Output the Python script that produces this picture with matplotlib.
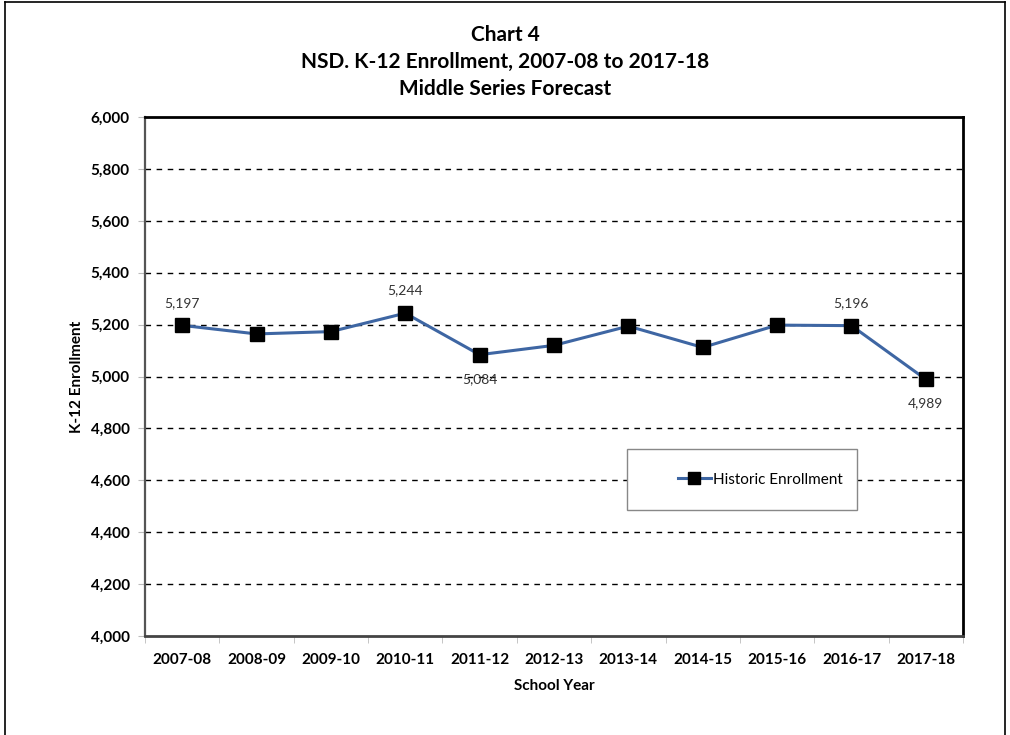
import matplotlib.pyplot as plt
from matplotlib.lines import Line2D
from matplotlib.patches import Rectangle
from matplotlib.ticker import FuncFormatter, FixedLocator

# data
years = ['2007-08', '2008-09', '2009-10', '2010-11', '2011-12', '2012-13',
         '2013-14', '2014-15', '2015-16', '2016-17', '2017-18']
enrollment = [5197, 5164, 5173, 5244, 5084, 5120, 5194, 5112, 5198, 5196, 4989]
# which points carry a data label, and where (above / below)
labelled = {0: 'above', 3: 'above', 4: 'below', 9: 'above', 10: 'below'}

plt.rcParams['font.family'] = ['Lato', 'DejaVu Sans']

W, H = 1010, 735
fig = plt.figure(figsize=(W / 100, H / 100), dpi=100)
ax = fig.add_axes([145 / W, 1 - 636 / H, (963 - 145) / W, (636 - 117) / H])

line_colour = '#3e66a3'
x = list(range(len(years)))
ax.plot(x, enrollment, color=line_colour, lw=2.2, marker='s', ms=10,
        mfc='black', mec='black', zorder=3, label='Historic Enrollment')

for i, side in labelled.items():
    dy = 12 if side == 'above' else -13
    ax.annotate(f'{enrollment[i]:,}', (x[i], enrollment[i]), xytext=(0, dy),
                textcoords='offset points', ha='center',
                va='bottom' if side == 'above' else 'top', fontsize=10, color='#333333')

ax.set_xlim(-0.5, len(years) - 0.5)
ax.set_ylim(4000, 6000)
ax.set_yticks(range(4000, 6001, 200))
ax.yaxis.set_major_formatter(FuncFormatter(lambda v, p: f'{int(v):,}'))
ax.set_xticks(x)
ax.set_xticklabels(years)
ax.xaxis.set_minor_locator(FixedLocator([i - 0.5 for i in range(len(years) + 1)]))
ax.tick_params(axis='x', which='major', length=0, pad=12)
ax.tick_params(axis='x', which='minor', length=5, color='#bbbbbb')
ax.tick_params(axis='y', length=5, color='#bbbbbb', pad=6)
for lab in ax.get_xticklabels() + ax.get_yticklabels():
    lab.set_fontweight('bold')
    lab.set_fontsize(11)

for v in range(4200, 6000, 200):
    ax.axhline(v, color='black', lw=1.0, ls=(0, (4, 4)), zorder=1)

ax.spines['left'].set_color('#555555')
ax.spines['left'].set_linewidth(1.6)
ax.spines['bottom'].set_color('#444444')
ax.spines['bottom'].set_linewidth(2)
ax.spines['top'].set_linewidth(2)
ax.spines['right'].set_linewidth(2)

ax.set_xlabel('School Year', fontsize=11, fontweight='bold', labelpad=9)
ax.set_ylabel('K-12 Enrollment', fontsize=11, fontweight='bold', labelpad=5)

fig.text(0.5, 1 - 62 / H, 'Chart 4\nNSD. K-12 Enrollment, 2007-08 to 2017-18\nMiddle Series Forecast',
         ha='center', va='center', fontsize=15, fontweight='bold', linespacing=1.45)

# legend: white box covering the gridlines, entry placed inside it
ax.add_patch(Rectangle((0.589, 0.243), 0.281, 0.117, transform=ax.transAxes,
                       facecolor='white', edgecolor='#888888', lw=1, zorder=4))
handle = Line2D([], [], color=line_colour, lw=2.2, marker='s', ms=8, mfc='black', mec='black')
leg = ax.legend([handle], ['Historic Enrollment'], loc='center',
                bbox_to_anchor=(0.752, 0.3015), frameon=False, fontsize=11,
                handlelength=2.2, handletextpad=0.1, borderaxespad=0)
leg.set_zorder(5)

# outer chart border (left, top, right)
fig.add_artist(Line2D([5 / W, 5 / W], [0, 1 - 2 / H], color='black', lw=1.2))
fig.add_artist(Line2D([5 / W, 1005 / W], [1 - 2 / H, 1 - 2 / H], color='black', lw=1.2))
fig.add_artist(Line2D([1005 / W, 1005 / W], [0, 1 - 2 / H], color='black', lw=1.2))

fig.savefig('out.png', dpi=100)
